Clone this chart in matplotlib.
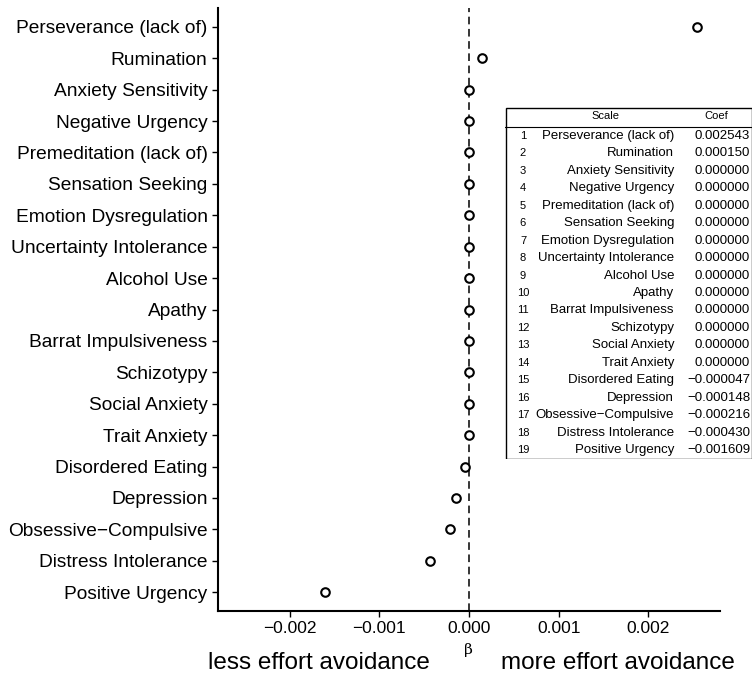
import matplotlib.pyplot as plt
import matplotlib.patches as patches

plt.rcParams['font.family'] = ['Liberation Sans', 'DejaVu Sans']

scales = ["Perseverance (lack of)", "Rumination", "Anxiety Sensitivity", "Negative Urgency",
          "Premeditation (lack of)", "Sensation Seeking", "Emotion Dysregulation",
          "Uncertainty Intolerance", "Alcohol Use", "Apathy", "Barrat Impulsiveness",
          "Schizotypy", "Social Anxiety", "Trait Anxiety", "Disordered Eating", "Depression",
          "Obsessive\u2212Compulsive", "Distress Intolerance", "Positive Urgency"]
coefs = [0.002543, 0.000150, 0.0, 0.0, 0.0, 0.0, 0.0, 0.0, 0.0, 0.0, 0.0, 0.0, 0.0, 0.0,
         -0.000047, -0.000148, -0.000216, -0.000430, -0.001609]
xticks = [-0.002, -0.001, 0.0, 0.001, 0.002]

W, H = 753, 677
fig = plt.figure(figsize=(W / 100, H / 100), dpi=100)
ax = fig.add_axes([218 / W, (H - 611) / H, (720 - 218) / W, (611 - 8) / H])

ypos = list(range(len(scales)))[::-1]
ax.scatter(coefs, ypos, s=38, facecolors='white', edgecolors='black', linewidths=1.5, zorder=3)
ax.axvline(0, color='black', linestyle=(0, (5, 3)), linewidth=1.1, zorder=1)

ax.set_xlim(-0.0028, 0.0028)
ax.set_ylim(-0.6, len(scales) - 0.4)
ax.set_yticks(ypos)
ax.set_yticklabels(scales, fontsize=13.8)
ax.set_xticks(xticks)
ax.set_xticklabels(["%.3f" % v if v >= 0 else "\u2212%.3f" % -v for v in xticks], fontsize=12.5)
ax.tick_params(length=4, width=1, color='black')
for s in ['top', 'right']:
    ax.spines[s].set_visible(False)
for s in ['left', 'bottom']:
    ax.spines[s].set_linewidth(1.5)

fig.text(468 / W, 1 - 650 / H, "\u03b2", ha='center', va='center', fontsize=11, family='DejaVu Serif')
fig.text(208 / W, 1 - 663 / H, "less effort avoidance", ha='left', va='center', fontsize=17.5)
fig.text(735 / W, 1 - 663 / H, "more effort avoidance", ha='right', va='center', fontsize=17.5)

# table inset, pixel coordinates
tx0, ty0, tx1, ty1 = 505, 107, 752, 459
tab = fig.add_axes([tx0 / W, 1 - ty1 / H, (tx1 - tx0) / W, (ty1 - ty0) / H])
tab.set_xlim(tx0, tx1)
tab.set_ylim(ty1, ty0)
tab.axis('off')
tab.add_patch(patches.Rectangle((tx0 + 0.5, ty0 + 0.5), tx1 - tx0 - 1, ty1 - ty0 - 1,
                                fill=False, edgecolor='black', linewidth=1))
tab.plot([tx0, tx1], [127, 127], color='black', linewidth=0.8)
tab.text(605, 116, "Scale", ha='center', va='center', fontsize=8)
tab.text(716, 116, "Coef", ha='center', va='center', fontsize=8)
for i, (name, c) in enumerate(zip(scales, coefs)):
    y = 136 + i * (450 - 136) / 18
    tab.text(523, y, str(i + 1), ha='center', va='center', fontsize=8)
    tab.text(674, y, name, ha='right', va='center', fontsize=9.5)
    val = "%.6f" % c if c >= 0 else "\u2212%.6f" % -c
    tab.text(750, y, val, ha='right', va='center', fontsize=9.5)

fig.savefig("out.png", dpi=100)
